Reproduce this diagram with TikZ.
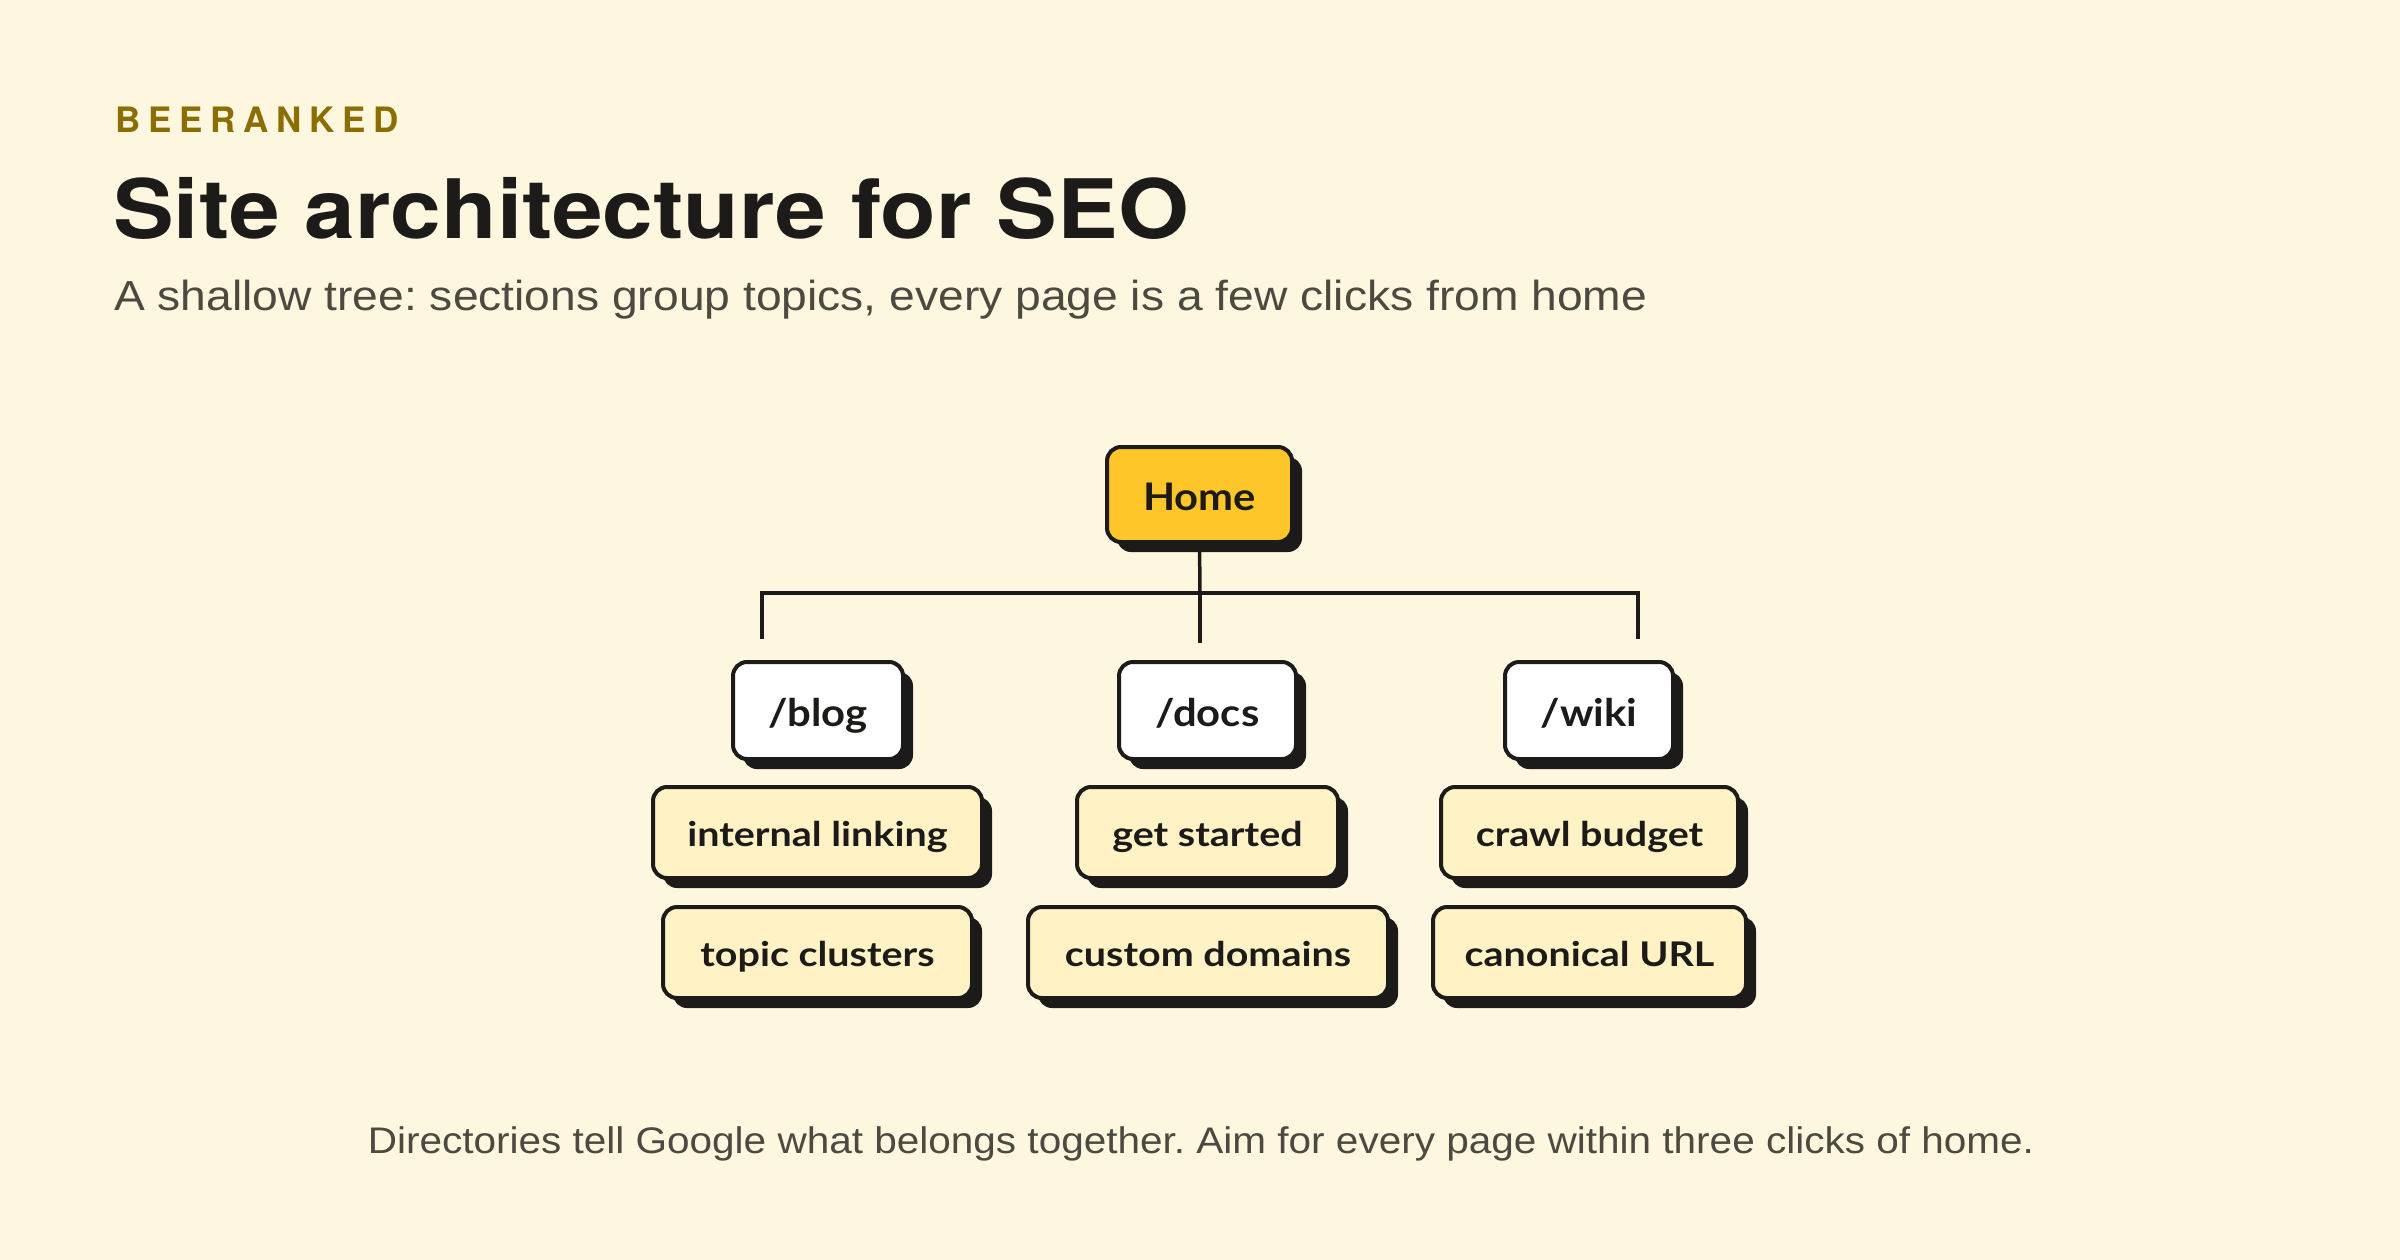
\documentclass[tikz,border=0pt]{standalone}
\usepackage{fontspec}
\setmainfont{Liberation Sans}
\newfontfamily\titlefont[FakeStretch=1.11]{TeX Gyre Heros}
\newfontfamily\kickerfont[LetterSpace=22]{TeX Gyre Heros}
\newfontfamily\subfont[FakeStretch=1.1]{Liberation Sans}
\newfontfamily\footfont[FakeStretch=1.095]{Liberation Sans}
\newfontfamily\boxfont[FakeStretch=1.1]{Lato}
\newfontfamily\leaffont[FakeStretch=1.16]{Lato}
\usetikzlibrary{shadows}
\definecolor{bg}{HTML}{FEF7E0}
\definecolor{ink}{HTML}{1C1B19}
\definecolor{gold}{HTML}{8C6D00}
\definecolor{homefill}{HTML}{FFC629}
\definecolor{leaffill}{HTML}{FFF2C5}
\definecolor{subgray}{HTML}{4B4940}
\tikzset{
  card/.style={draw=ink, line width=4pt, rounded corners=14pt, inner sep=0pt,
    text=ink, align=center, text depth=0pt,
    drop shadow={shadow xshift=10pt, shadow yshift=-10pt, fill=ink, opacity=1}},
  homebox/.style={card, fill=homefill, minimum width=185pt, minimum height=95pt,
    text height=31pt, font=\boxfont\bfseries\fontsize{38}{40}\selectfont},
  sectionbox/.style={card, fill=white, minimum height=97pt,
    text height=31pt, font=\boxfont\bfseries\fontsize{38}{40}\selectfont},
  leafbox/.style={card, fill=leaffill, minimum height=91pt,
    text height=27pt, font=\leaffont\bfseries\fontsize{34}{36}\selectfont},
  wire/.style={draw=ink, line width=3.5pt}
}
\begin{document}
\frenchspacing
\begin{tikzpicture}[x=1pt,y=-1pt]
\useasboundingbox (0,0) rectangle (2400,1260);
\fill[bg] (0,0) rectangle (2400,1260);

\node[anchor=base west, inner sep=0pt, text=gold, font=\kickerfont\bfseries\fontsize{35}{40}\selectfont] (kicker) at (115,133) {BEERANKED};
\node[anchor=base west, inner sep=0pt, text=ink, font=\titlefont\bfseries\fontsize{82}{90}\selectfont] (title) at (113,238) {Site architecture for SEO};
\node[anchor=base west, inner sep=0pt, text=subgray, font=\subfont\fontsize{42}{46}\selectfont] (subtitle) at (114,310) {A shallow tree: sections group topics, every page is a few clicks from home};

\node[homebox] (home) at (1199.5,494.5) {Home};

\node[sectionbox, minimum width=170pt] (blog) at (818,710.5) {/blog};
\node[sectionbox, minimum width=177pt] (docs) at (1207.5,710.5) {/docs};
\node[sectionbox, minimum width=168pt] (wiki) at (1589,710.5) {/wiki};

\node[leafbox, minimum width=329pt] (linking) at (817.5,832.5) {internal linking};
\node[leafbox, minimum width=309pt] (clusters) at (817.5,952.5) {topic clusters};
\node[leafbox, minimum width=261pt] (started) at (1207.5,832.5) {get started};
\node[leafbox, minimum width=360pt] (domains) at (1208,952.5) {custom domains};
\node[leafbox, minimum width=297pt] (crawl) at (1589.5,832.5) {crawl budget};
\node[leafbox, minimum width=313pt] (canon) at (1589.5,952.5) {canonical URL};

\coordinate (hub) at (1200,593);
\coordinate (barL) at (762,593);
\coordinate (barR) at (1638,593);
\coordinate (dropL) at (762,639);
\coordinate (dropC) at (1200,643);
\coordinate (dropR) at (1638,639);
\draw[wire] (home.south) -- (hub);
\draw[wire, line cap=rect] (barL) -- (barR);
\draw[wire] (barL) -- (dropL);
\draw[wire] (hub) -- (dropC);
\draw[wire] (barR) -- (dropR);

\node[anchor=base, inner sep=0pt, text=subgray, font=\footfont\fontsize{37}{40}\selectfont] (footer) at (1201,1153) {Directories tell Google what belongs together. Aim for every page within three clicks of home.};
\end{tikzpicture}
\end{document}
